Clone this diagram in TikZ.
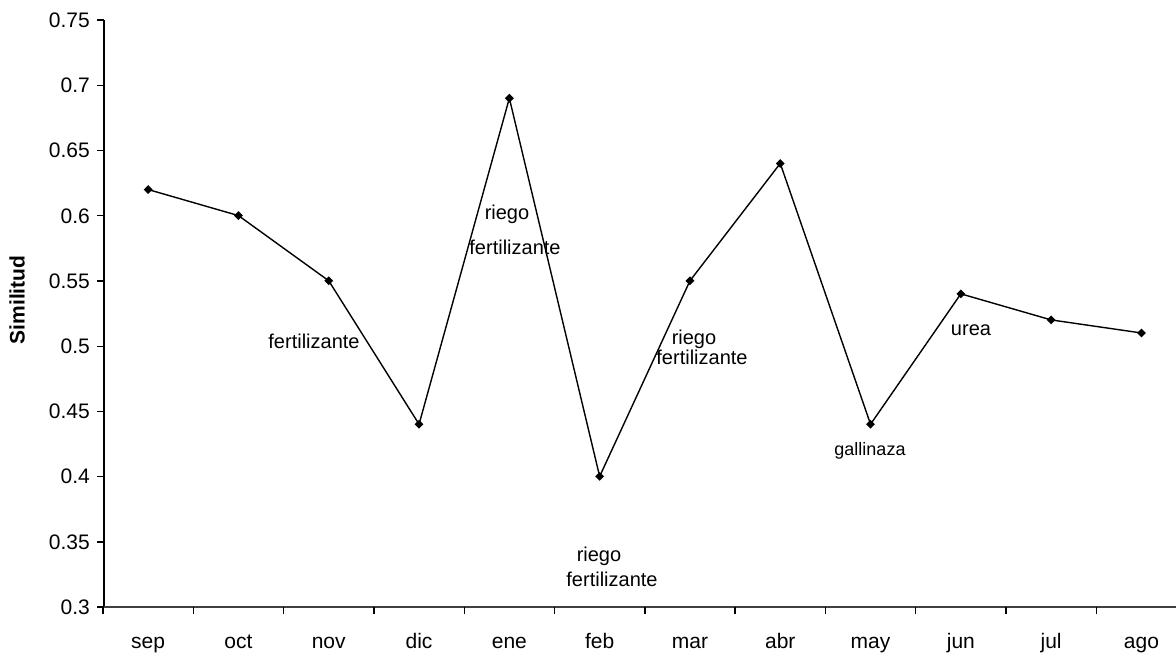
\documentclass[tikz,border=0pt]{standalone}
\usepackage{fontspec}
\setmainfont{Liberation Sans}
\usetikzlibrary{shapes.geometric}
\begin{document}
\begin{tikzpicture}[x=1pt,y=-1pt,
  axisline/.style={line width=2pt,black},
  xaxisline/.style={line width=1.4pt,black!75},
  tickline/.style={line width=1.4pt,black},
  dataline/.style={line width=1.4pt,black},
  datamark/.style={diamond,fill=black,inner sep=0pt,minimum size=9pt},
  ticklab/.style={font=\fontsize{21}{24}\selectfont,inner sep=0pt},
  annot/.style={font=\fontsize{20}{22}\selectfont,inner sep=0pt},
  ylab/.style={font=\fontsize{21}{24}\selectfont\bfseries,inner sep=0pt,rotate=90}
]
\useasboundingbox (0,0) rectangle (1176,655);
% axes
\coordinate (o) at (104,607);
\coordinate (ytop) at (104,20);
\coordinate (xend) at (1176,607);
\draw[axisline] (o) -- (ytop);
\draw[xaxisline] (o) -- (xend);
% y ticks and labels
\foreach \k/\lab in {0/0.3,1/0.35,2/0.4,3/0.45,4/0.5,5/0.55,6/0.6,7/0.65,8/0.7,9/0.75}{
  \pgfmathsetmacro{\yy}{607-\k*65.2}
  \coordinate (yt\k) at (104,\yy);
  \coordinate (ytl\k) at (97,\yy);
  \draw[tickline] (yt\k) -- (ytl\k);
  \node[ticklab,anchor=east] (ylab\k) at (90,\yy) {\lab};
}
% x ticks
\foreach \i in {0,...,11}{
  \pgfmathsetmacro{\xx}{103+\i*90.3}
  \coordinate (xt\i) at (\xx,607);
  \coordinate (xtb\i) at (\xx,614);
  \draw[tickline] (xt\i) -- (xtb\i);
}
% x labels
\foreach \n [count=\i from 0] in {sep,oct,nov,dic,ene,feb,mar,abr,may,jun,jul,ago}{
  \pgfmathsetmacro{\xx}{103+(\i+0.5)*90.3}
  \node[ticklab,anchor=base] (xl\i) at (\xx,648) {\n};
}
% data points
\foreach \v [count=\i from 0] in {0.62,0.60,0.55,0.44,0.69,0.40,0.55,0.64,0.44,0.54,0.52,0.51}{
  \pgfmathsetmacro{\xx}{103+(\i+0.5)*90.3}
  \pgfmathsetmacro{\yy}{20+(0.75-\v)*1304}
  \coordinate (p\i) at (\xx,\yy);
}
\draw[dataline] (p0) -- (p1) -- (p2) -- (p3) -- (p4) -- (p5) -- (p6) -- (p7) -- (p8) -- (p9) -- (p10) -- (p11);
\foreach \i in {0,...,11}{
  \node[datamark] (m\i) at (p\i) {};
}
% axis title
\node[ylab] (ytitle) at (17,300) {Similitud};
% annotations
\node[annot] (a1) at (314,341) {fertilizante};
\node[annot] (a2) at (507,214) {riego};
\node[annot] (a3) at (515,247) {fertilizante};
\node[annot] (a4) at (599,556) {riego};
\node[annot] (a5) at (612,579) {fertilizante};
\node[annot] (a6) at (694,339) {riego};
\node[annot] (a7) at (702,357) {fertilizante};
\node[annot,font=\fontsize{18}{20}\selectfont] (a8) at (870,451) {gallinaza};
\node[annot] (a9) at (971,330) {urea};
\end{tikzpicture}
\end{document}
